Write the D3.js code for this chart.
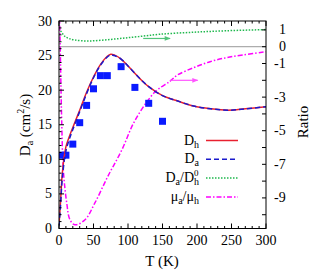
<!DOCTYPE html>
<html>
<head>
<meta charset="utf-8">
<script src="https://d3js.org/d3.v7.min.js"></script>
<style>
  body { margin: 0; background: #fff; }
  text { font-family: "Liberation Serif", "DejaVu Serif", serif; fill: #000; }
</style>
</head>
<body>
<svg width="327" height="274"></svg>
<script>
// data
var dhT = [0, 2, 5, 10, 15, 20, 30, 40, 50, 60, 70, 75, 80, 90, 100, 115, 130, 150, 170, 195, 220, 245, 270, 300];
var dhV = [0.5, 3.5, 8.2, 11.8, 13.3, 14.6, 17.1, 19.7, 21.9, 23.7, 24.9, 25.2, 25.1, 24.5, 23.5, 21.9, 20.5, 19.2, 18.5, 17.7, 17.3, 17.1, 17.3, 17.6];
var daV = [0.4, 3.0, 7.5, 11.2, 12.9, 14.3, 16.9, 19.5, 21.8, 23.6, 24.8, 25.1, 25.0, 24.5, 23.5, 21.9, 20.5, 19.2, 18.5, 17.7, 17.3, 17.1, 17.3, 17.6];

var ptT = [5, 10, 20, 30, 40, 50, 60, 70, 90, 110, 130, 150];
var ptV = [10.6, 10.6, 12.2, 15.3, 17.8, 20.2, 22.1, 22.1, 23.4, 20.4, 18.1, 15.5];

var grT = [0, 4, 9, 15, 23, 42, 66, 91, 115, 146, 194, 243, 300];
var grR = [1.1, 0.85, 0.6, 0.48, 0.4, 0.34, 0.4, 0.5, 0.6, 0.74, 0.86, 0.95, 1.02];

var muT = [0.3, 1.5, 2.9, 3.9, 6.2, 11.2, 15.9, 23, 37.7, 52, 71, 91, 110, 139, 161, 171, 195, 219, 243, 267, 300];
var muR = [2.5, 0.5, -2.5, -4.4, -7.3, -9.3, -10.3, -10.6, -10.3, -9.3, -7.7, -6.15, -4.4, -2.7, -2.05, -1.7, -1.25, -0.89, -0.65, -0.49, -0.3];

var xTicks = [0, 50, 100, 150, 200, 250, 300];
var yTicks = [0, 5, 10, 15, 20, 25, 30];
var rTicks = [1, 0, -1, -3, -5, -7, -9];

var svg = d3.select("svg");
var L = 59, R = 266, T = 21, B = 228.5;

var x = d3.scaleLinear().domain([0, 300]).range([L, R]);
var y = d3.scaleLinear().domain([0, 30]).range([B, T]);
var yr = d3.scaleLinear().domain([-10.82, 1.53]).range([B, T]);

svg.append("defs").append("clipPath").attr("id", "clip")
  .append("rect").attr("x", L).attr("y", T).attr("width", R - L).attr("height", B - T);

var defs = svg.select("defs");
function marker(id, col) {
  defs.append("marker").attr("id", id).attr("viewBox", "0 0 10 10")
    .attr("refX", 9).attr("refY", 5).attr("markerWidth", 7).attr("markerHeight", 6)
    .attr("orient", "auto").attr("markerUnits", "userSpaceOnUse")
    .append("path").attr("d", "M0,1L10,5L0,9z").attr("fill", col);
}
marker("ag", "#52c47a");
marker("am", "#ff55ff");

var plot = svg.append("g").attr("clip-path", "url(#clip)");

// zero line of ratio axis
plot.append("line").attr("x1", L).attr("x2", R).attr("y1", yr(0)).attr("y2", yr(0))
  .attr("stroke", "#999").attr("stroke-width", 1);

var lineL = d3.line().curve(d3.curveCatmullRom).x(function(d){ return x(d[0]); }).y(function(d){ return y(d[1]); });
var lineR = d3.line().curve(d3.curveCatmullRom).x(function(d){ return x(d[0]); }).y(function(d){ return yr(d[1]); });

plot.append("path").datum(d3.zip(grT, grR)).attr("d", lineR)
  .attr("fill", "none").attr("stroke", "#1fb84d").attr("stroke-width", 1.5).attr("stroke-dasharray", "1.5,1.5");
plot.append("path").datum(d3.zip(muT, muR)).attr("d", lineR)
  .attr("fill", "none").attr("stroke", "#ff00ff").attr("stroke-width", 1.5).attr("stroke-dasharray", "5,2,1.5,2");

plot.selectAll("rect.pt").data(d3.zip(ptT, ptV)).enter().append("rect").attr("class", "pt")
  .attr("x", function(d){ return x(d[0]) - 3.5; }).attr("y", function(d){ return y(d[1]) - 3.5; })
  .attr("width", 7).attr("height", 7).attr("fill", "#0a1aff");

plot.append("path").datum(d3.zip(dhT, dhV)).attr("d", lineL)
  .attr("fill", "none").attr("stroke", "#e8202f").attr("stroke-width", 1.5);
plot.append("path").datum(d3.zip(dhT, daV)).attr("d", lineL)
  .attr("fill", "none").attr("stroke", "#1a1acc").attr("stroke-width", 1.5).attr("stroke-dasharray", "5,3");

// arrows pointing to the ratio axis
svg.append("line").attr("x1", x(122)).attr("x2", x(161)).attr("y1", yr(0.49)).attr("y2", yr(0.49))
  .attr("stroke", "#52c47a").attr("stroke-width", 1.2).attr("marker-end", "url(#ag)");
svg.append("line").attr("x1", x(161)).attr("x2", x(201)).attr("y1", yr(-2)).attr("y2", yr(-2))
  .attr("stroke", "#ff55ff").attr("stroke-width", 1.2).attr("marker-end", "url(#am)");

// frame
svg.append("rect").attr("x", L).attr("y", T).attr("width", R - L).attr("height", B - T)
  .attr("fill", "none").attr("stroke", "#000").attr("stroke-width", 1);

// ticks
var ax = svg.append("g").attr("stroke", "#000").attr("stroke-width", 1);
d3.range(0, 301, 10).forEach(function(t){
  var len = t % 50 === 0 ? 5 : 2.5;
  ax.append("line").attr("x1", x(t)).attr("x2", x(t)).attr("y1", B).attr("y2", B - len);
  ax.append("line").attr("x1", x(t)).attr("x2", x(t)).attr("y1", T).attr("y2", T + len);
});
d3.range(0, 31, 1).forEach(function(v){
  var len = v % 5 === 0 ? 5 : 2.5;
  ax.append("line").attr("x1", L).attr("x2", L + len).attr("y1", y(v)).attr("y2", y(v));
});
d3.range(-10, 2, 1).forEach(function(v){
  ax.append("line").attr("x1", R).attr("x2", R - 4).attr("y1", yr(v)).attr("y2", yr(v));
});

svg.selectAll("text.xt").data(xTicks).enter().append("text").attr("class", "xt")
  .attr("x", function(d){ return x(d); }).attr("y", 245).attr("text-anchor", "middle")
  .attr("font-size", 14).text(function(d){ return d; });
svg.selectAll("text.yt").data(yTicks).enter().append("text").attr("class", "yt")
  .attr("x", 52).attr("y", function(d){ return y(d) + 4.5; }).attr("text-anchor", "end")
  .attr("font-size", 14).text(function(d){ return d; });
svg.selectAll("text.rt").data(rTicks).enter().append("text").attr("class", "rt")
  .attr("x", function(d){ return d < 0 ? 274 : 279; }).attr("y", function(d){ return yr(d) + 4.5; })
  .attr("font-size", 14).text(function(d){ return d; });

// axis titles
svg.append("text").attr("x", 162).attr("y", 266).attr("text-anchor", "middle").attr("font-size", 15).text("T (K)");
var yl = svg.append("text").attr("transform", "translate(30,125) rotate(-90)").attr("text-anchor", "middle").attr("font-size", 15);
yl.append("tspan").text("D");
yl.append("tspan").attr("font-size", 10).attr("dy", 3).text("a");
yl.append("tspan").attr("dy", -3).text(" (cm");
yl.append("tspan").attr("font-size", 10).attr("dy", -6).text("2");
yl.append("tspan").attr("dy", 6).text("/s)");
svg.append("text").attr("transform", "translate(308,122) rotate(-90)").attr("text-anchor", "middle").attr("font-size", 15).text("Ratio");

// legend
var leg = [
  { parts: [["D", 0], ["h", 1]], col: "#e8202f", dash: null },
  { parts: [["D", 0], ["a", 1]], col: "#1a1acc", dash: "5,3" },
  { parts: [["D", 0], ["a", 1], ["/D", 0], ["h", 1], ["0", 2]], col: "#1fb84d", dash: "1.5,1.5" },
  { parts: [["\u03bc", 0], ["a", 1], ["/\u03bc", 0], ["h", 1]], col: "#ff00ff", dash: "5,2,1.5,2" }
];
leg.forEach(function(e, i){
  var yy = 140.5 + i * 18.8;
  var t = svg.append("text").attr("x", 199).attr("y", yy + 4).attr("text-anchor", "end").attr("font-size", 14);
  var shift = 0;
  e.parts.forEach(function(p){
    if (p[1] === 0) { t.append("tspan").attr("dy", -shift).text(p[0]); shift = 0; }
    else if (p[1] === 1) { t.append("tspan").attr("font-size", 10).attr("dy", 3 - shift).text(p[0]); shift = 3; }
    else { t.append("tspan").attr("font-size", 9).attr("dx", -5).attr("dy", -9).text(p[0]); shift = -6; }
  });
  svg.append("line").attr("x1", 206).attr("x2", 238).attr("y1", yy).attr("y2", yy)
    .attr("stroke", e.col).attr("stroke-width", 1.5).attr("stroke-dasharray", e.dash);
});
</script>
</body>
</html>
